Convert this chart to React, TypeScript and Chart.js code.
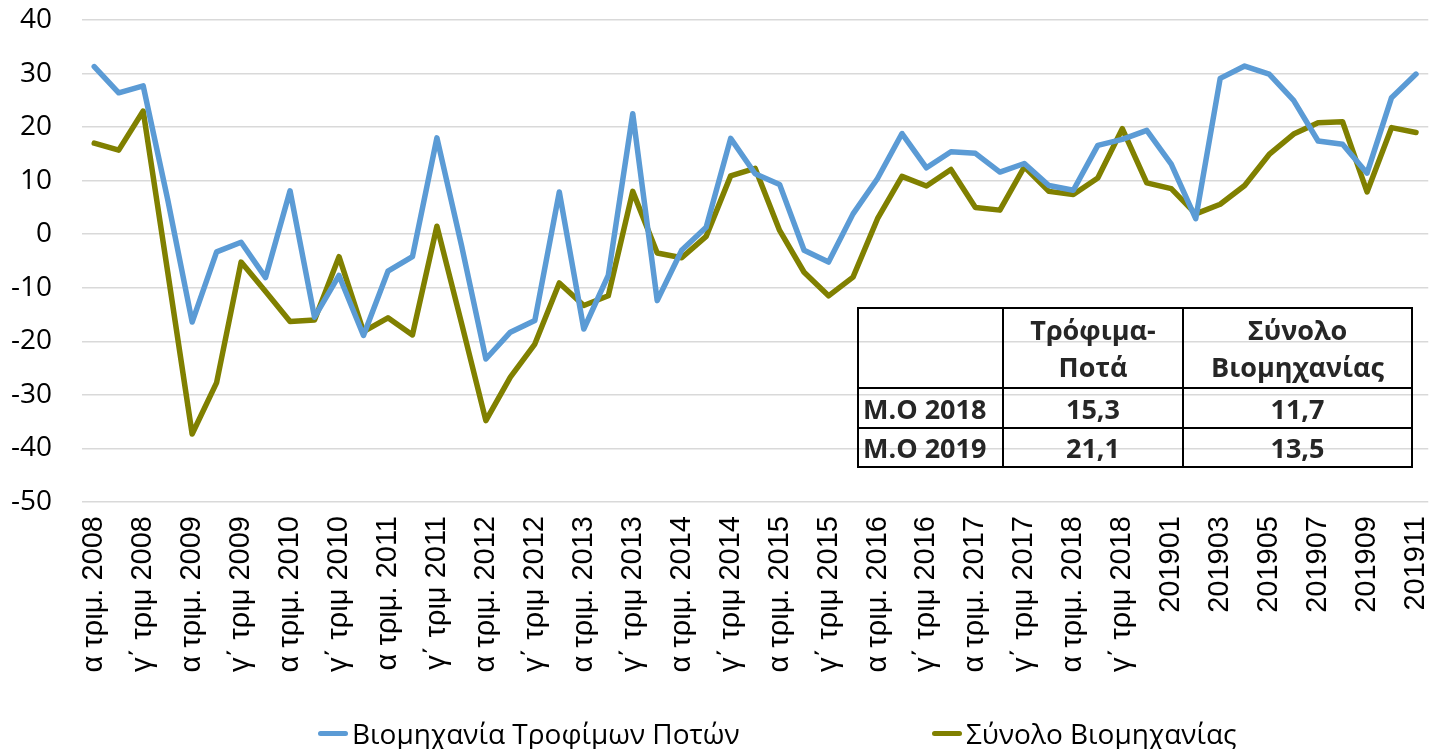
import React, { useEffect, useRef } from 'react';
import { Chart, registerables } from 'chart.js';

Chart.register(...registerables);

const categories = [
  'α τριμ. 2008', 'β τριμ. 2008', 'γ΄ τριμ 2008', 'δ΄ τριμ 2008',
  'α τριμ. 2009', 'β τριμ. 2009', 'γ΄ τριμ 2009', 'δ΄ τριμ 2009',
  'α τριμ. 2010', 'β τριμ. 2010', 'γ΄ τριμ 2010', 'δ΄ τριμ 2010',
  'α τριμ. 2011', 'β τριμ. 2011', 'γ΄ τριμ 2011', 'δ΄ τριμ 2011',
  'α τριμ. 2012', 'β τριμ. 2012', 'γ΄ τριμ 2012', 'δ΄ τριμ 2012',
  'α τριμ. 2013', 'β τριμ. 2013', 'γ΄ τριμ 2013', 'δ΄ τριμ 2013',
  'α τριμ. 2014', 'β τριμ. 2014', 'γ΄ τριμ 2014', 'δ΄ τριμ 2014',
  'α τριμ. 2015', 'β τριμ. 2015', 'γ΄ τριμ 2015', 'δ΄ τριμ 2015',
  'α τριμ. 2016', 'β τριμ. 2016', 'γ΄ τριμ 2016', 'δ΄ τριμ 2016',
  'α τριμ. 2017', 'β τριμ. 2017', 'γ΄ τριμ 2017', 'δ΄ τριμ 2017',
  'α τριμ. 2018', 'β τριμ. 2018', 'γ΄ τριμ 2018', 'δ΄ τριμ 2018',
  '201901', '201902', '201903', '201904', '201905', '201906',
  '201907', '201908', '201909', '201910', '201911',
];

const foodBeverage = [
  31.3, 26.4, 27.7, 6.5, -16.4, -3.3, -1.5, -8.1, 8.1, -15.5,
  -7.7, -18.9, -6.9, -4.2, 18.0, -2.0, -23.3, -18.3, -16.1, 7.9,
  -17.7, -7.7, 22.5, -12.4, -3.0, 1.3, 17.9, 11.3, 9.3, -3.0,
  -5.2, 3.8, 10.4, 18.8, 12.4, 15.4, 15.1, 11.6, 13.2, 9.1,
  8.2, 16.6, 17.7, 19.4, 13.1, 2.9, 29.1, 31.4, 29.9, 25.0,
  17.4, 16.8, 11.4, 25.5, 29.9,
];

const totalIndustry = [
  17.0, 15.7, 23.0, -7.0, -37.3, -27.7, -5.2, -10.7, -16.3, -16.0,
  -4.2, -18.2, -15.6, -18.8, 1.5, -16.5, -34.8, -26.7, -20.5, -9.1,
  -13.3, -11.5, 8.0, -3.5, -4.4, -0.4, 10.9, 12.3, 0.7, -7.1,
  -11.5, -8.0, 2.9, 10.8, 9.0, 12.1, 5.0, 4.5, 12.6, 8.0,
  7.4, 10.5, 19.7, 9.6, 8.5, 3.8, 5.6, 9.1, 14.9, 18.7,
  20.8, 21.0, 7.9, 19.9, 19.0,
];

const seriesNames = ['Βιομηχανία Τροφίμων Ποτών', 'Σύνολο Βιομηχανίας'];
const seriesColors = ['#5B9BD5', '#808000'];

const yMin = -50;
const yMax = 40;
const yStep = 10;

const tableHeaders = [['Τρόφιμα-', 'Ποτά'], ['Σύνολο', 'Βιομηχανίας']];
const tableRowLabels = ['Μ.Ο 2018', 'Μ.Ο 2019'];
const tableFood = ['15,3', '21,1'];
const tableTotal = ['11,7', '13,5'];

const CAL = '"Open Sans", "Noto Sans", sans-serif';

export default function App() {
  const canvasRef = useRef<HTMLCanvasElement | null>(null);

  useEffect(() => {
    if (!canvasRef.current) return;
    const chart = new Chart(canvasRef.current, {
      type: 'line',
      data: {
        labels: categories,
        datasets: [
          {
            label: seriesNames[0],
            data: foodBeverage,
            borderColor: seriesColors[0],
            backgroundColor: seriesColors[0],
            borderWidth: 5.5,
            pointRadius: 0,
            tension: 0,
            borderJoinStyle: 'round',
            borderCapStyle: 'round',
          },
          {
            label: seriesNames[1],
            data: totalIndustry,
            borderColor: seriesColors[1],
            backgroundColor: seriesColors[1],
            borderWidth: 5.5,
            pointRadius: 0,
            tension: 0,
            borderJoinStyle: 'round',
            borderCapStyle: 'round',
          },
        ],
      },
      options: {
        animation: false,
        responsive: true,
        maintainAspectRatio: false,
        layout: { padding: { top: 20, right: 0, bottom: 47, left: 0 } },
        plugins: {
          legend: { display: false },
          tooltip: { enabled: false },
        },
        scales: {
          x: {
            type: 'category',
            offset: true,
            grid: { display: false, drawTicks: false },
            border: { display: false },
            ticks: {
              autoSkip: false,
              minRotation: 90,
              maxRotation: 90,
              padding: 14,
              color: '#000',
              font: { family: '"Liberation Sans", Arial, sans-serif', size: 29 },
              callback: (_v: any, i: number) => (i % 2 === 0 ? categories[i] : ''),
            },
            afterFit: (s: any) => {
              s.height = 200;
              s.paddingLeft = 0;
              s.paddingRight = 0;
            },
          },
          y: {
            min: yMin,
            max: yMax,
            grid: { color: '#d9d9d9', lineWidth: 1.5, drawTicks: false },
            border: { display: false },
            ticks: {
              stepSize: yStep,
              padding: 30,
              color: '#000',
              font: { family: CAL, size: 28 },
            },
            afterFit: (s: any) => {
              s.width = 82;
              s.paddingTop = 0;
              s.paddingBottom = 0;
            },
          },
        },
      },
    } as any);
    if ((document as any).fonts) {
      Promise.all([
        document.fonts.load('28px "Open Sans"'),
        document.fonts.load('28px "Liberation Sans"'),
      ]).then(() => chart.update()).catch(() => {});
    }
    return () => chart.destroy();
  }, []);

  const cellBase: React.CSSProperties = {
    boxSizing: 'border-box',
    display: 'flex',
    alignItems: 'center',
    justifyContent: 'center',
    textAlign: 'center',
    color: '#262626',
    fontFamily: CAL,
    fontWeight: 700,
    fontSize: 27,
    lineHeight: '37px',
  };

  return (
    <div style={{ position: 'fixed', left: 0, top: 0, width: 1431, height: 749, background: '#fff' }}>
      <canvas ref={canvasRef} />
      <div
        style={{
          position: 'absolute',
          left: 857,
          top: 307,
          width: 556,
          height: 161,
          boxSizing: 'border-box',
          border: '2px solid #000',
          display: 'grid',
          gridTemplateColumns: '145px 180px 1fr',
          gridTemplateRows: '80px 40px 1fr',
        }}
      >
        <div style={{ ...cellBase, borderRight: '2px solid #000', borderBottom: '2px solid #000' }} />
        {tableHeaders.map((h, i) => (
          <div
            key={'h' + i}
            style={{
              ...cellBase,
              flexDirection: 'column',
              borderRight: i === 0 ? '2px solid #000' : undefined,
              borderBottom: '2px solid #000',
            }}
          >
            <span>{h[0]}</span>
            <span>{h[1]}</span>
          </div>
        ))}
        {tableRowLabels.map((r, ri) => (
          <React.Fragment key={'r' + ri}>
            <div
              style={{
                ...cellBase,
                justifyContent: 'flex-start',
                paddingLeft: 4,
                borderRight: '2px solid #000',
                borderBottom: ri === 0 ? '2px solid #000' : undefined,
              }}
            >
              {r}
            </div>
            <div
              style={{
                ...cellBase,
                borderRight: '2px solid #000',
                borderBottom: ri === 0 ? '2px solid #000' : undefined,
              }}
            >
              {tableFood[ri]}
            </div>
            <div style={{ ...cellBase, borderBottom: ri === 0 ? '2px solid #000' : undefined }}>
              {tableTotal[ri]}
            </div>
          </React.Fragment>
        ))}
      </div>
      {[0, 1].map((i) => (
        <div
          key={'lg' + i}
          style={{
            position: 'absolute',
            left: i === 0 ? 318 : 932,
            top: 714,
            height: 38,
            display: 'flex',
            alignItems: 'center',
            fontFamily: CAL,
            fontSize: 28,
            color: '#000',
            whiteSpace: 'nowrap',
          }}
        >
          <span
            style={{
              display: 'inline-block',
              width: 30,
              height: 5,
              borderRadius: 3,
              background: seriesColors[i],
              marginRight: 4,
            }}
          />
          <span>{seriesNames[i]}</span>
        </div>
      ))}
    </div>
  );
}
